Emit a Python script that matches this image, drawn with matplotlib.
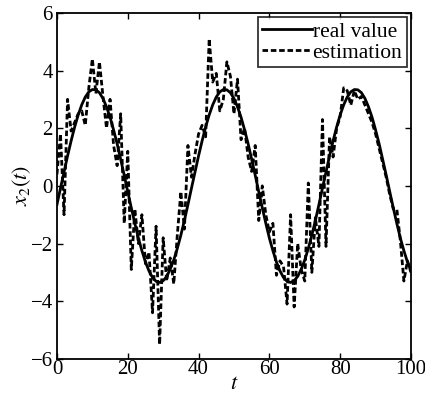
import matplotlib
matplotlib.use("Agg")
import matplotlib.pyplot as plt

plt.rcParams['font.family'] = ['Liberation Serif', 'DejaVu Serif']
plt.rcParams['mathtext.fontset'] = 'stix'

t_real = list(range(0, 101))
real_value = [
    -0.65, -0.08, 0.48, 1.04, 1.56, 2.04, 2.46, 2.81, 3.08, 3.26,
    3.34, 3.33, 3.23, 3.03, 2.74, 2.38, 1.94, 1.46, 0.92, 0.37,
    -0.20, -0.76, -1.30, -1.81, -2.25, -2.64, -2.95, -3.18, -3.31, -3.35,
    -3.29, -3.14, -2.89, -2.57, -2.17, -1.71, -1.20,
    -0.65, -0.08, 0.48, 1.04, 1.56, 2.04, 2.46, 2.81, 3.08, 3.26,
    3.34, 3.33, 3.23, 3.03, 2.74, 2.38, 1.94, 1.46, 0.92, 0.37,
    -0.20, -0.76, -1.30, -1.81, -2.25, -2.64, -2.95, -3.18, -3.31, -3.35,
    -3.29, -3.14, -2.89, -2.57, -2.17, -1.71, -1.20,
    -0.65, -0.08, 0.48, 1.04, 1.56, 2.04, 2.46, 2.81, 3.08, 3.26,
    3.34, 3.33, 3.23, 3.03, 2.74, 2.38, 1.94, 1.46, 0.92, 0.37,
    -0.20, -0.76, -1.30, -1.81, -2.25, -2.64, -2.95,
]

t_est = list(range(0, 101))
estimation = [
    0.4, 1.8, -1.0, 3.0, 1.9, 2.2, 2.5, 2.6, 2.1, 3.4,
    4.4, 3.2, 4.3, 3.1, 2.0, 3.0, 1.4, 0.7, 2.5, -1.3,
    1.2, -2.9, -0.8, -2.0, -1.0, -2.7, -2.3, -4.4, -1.4, -5.5,
    -1.8, -3.3, -2.5, -3.4, -1.7, -0.2, -1.5, 1.4, 0.3, 1.1,
    1.8, 2.1, 1.7, 5.1, 3.6, 3.9, 2.6, 3.0, 4.3, 3.8,
    2.5, 3.7, 1.6, 2.0, 1.0, 0.5, 1.4, -1.2, 0.0, -1.0,
    -1.6, -1.3, -3.1, -2.6, -2.8, -4.1, -1.0, -4.2, -2.0, -2.9,
    -3.3, 0.1, -3.0, -1.1, -2.1, 2.3, -2.1, 1.7, 1.0, 2.0,
    2.4, 3.4, 3.3, 2.8, 3.3, 3.0, 3.1, 2.8, 2.5, 2.2,
    1.8, 1.3, 0.8, 0.3, -0.3, -0.8, -0.8, -1.9, -3.3, -2.6,
    -3.0,
]

x_ticks = [0, 20, 40, 60, 80, 100]
y_ticks = [-6, -4, -2, 0, 2, 4, 6]

fig = plt.figure(figsize=(4.25, 4.01), dpi=100)
ax = fig.add_axes([0.134, 0.105, 0.833, 0.863])

ax.plot(t_real, real_value, color='black', linewidth=2.0, label='real value')
ax.plot(t_est, estimation, color='black', linewidth=2.0, linestyle=(0, (2.0, 1.0)),
        label='estimation')

ax.set_xlim(0, 100)
ax.set_ylim(-6, 6)
ax.set_xticks(x_ticks)
ax.set_yticks(y_ticks)
ax.tick_params(direction='in', top=True, right=True, labelsize=15, length=4, width=1)
ax.tick_params(axis='x', pad=1)
ax.tick_params(axis='y', pad=3)
for s in ax.spines.values():
    s.set_linewidth(1.3)

ax.set_xlabel('$t$', fontsize=16, labelpad=-3)
ax.set_ylabel('$x_2(t)$', fontsize=16, labelpad=-2)

leg = ax.legend(loc='upper right', fontsize=15.5, frameon=True, fancybox=False,
                edgecolor='black', borderaxespad=0.2, handlelength=2.3,
                handletextpad=0.05, borderpad=0.2, labelspacing=0.05)
leg.get_frame().set_linewidth(1.3)

fig.savefig('out.png', dpi=100)
